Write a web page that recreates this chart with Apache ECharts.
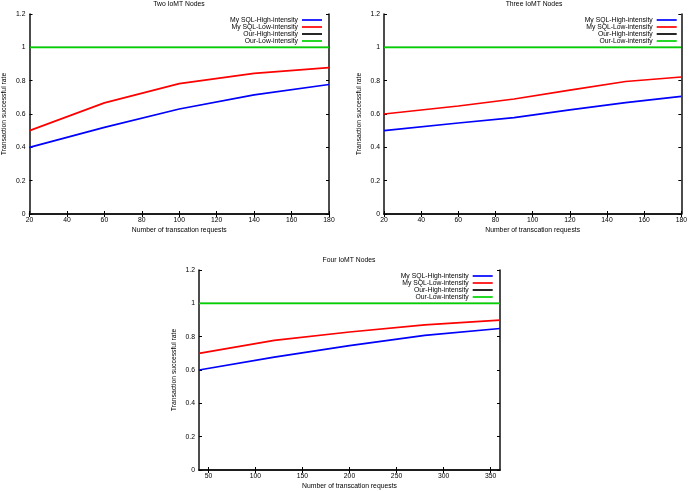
<!DOCTYPE html>
<html>
<head>
<meta charset="utf-8">
<script src="https://cdn.jsdelivr.net/npm/echarts@6/dist/echarts.min.js"></script>
<style>
html,body{margin:0;padding:0;background:#fff;}
#chart{width:690px;height:491px;}
</style>
</head>
<body>
<div id="chart"></div>
<script>
// ---- data ----
const seriesNames = ['My SQL-High-intensity', 'My SQL-Low-intensity', 'Our-High-intensity', 'Our-Low-intensity'];
const titles = ['Two IoMT Nodes', 'Three IoMT Nodes', 'Four IoMT Nodes'];
const xAxisTitle = 'Number of transcation requests';
const yAxisTitle = 'Transaction successful rate';

const x1 = [20, 60, 100, 140, 180];
const mysqlHigh1 = [0.40, 0.52, 0.63, 0.715, 0.777];
const mysqlLow1 = [0.50, 0.667, 0.782, 0.844, 0.878];
const ourHigh1 = [1, 1, 1, 1, 1];
const ourLow1 = [1, 1, 1, 1, 1];

const x2 = [20, 60, 90, 120, 150, 180];
const mysqlHigh2 = [0.50, 0.546, 0.578, 0.625, 0.668, 0.706];
const mysqlLow2 = [0.60, 0.648, 0.69, 0.743, 0.795, 0.822];
const ourHigh2 = [1, 1, 1, 1, 1, 1];
const ourLow2 = [1, 1, 1, 1, 1, 1];

const x3 = [40, 120, 200, 280, 360];
const mysqlHigh3 = [0.60, 0.677, 0.746, 0.808, 0.849];
const mysqlLow3 = [0.70, 0.778, 0.828, 0.871, 0.899];
const ourHigh3 = [1, 1, 1, 1, 1];
const ourLow3 = [1, 1, 1, 1, 1];

const xTicks3 = [50, 100, 150, 200, 250, 300, 350];

// ---- styling ----
const FONT = 'Liberation Sans, Arial, sans-serif';
const FS = 6.8;
const colors = ['#0000ff', '#ff0000', '#000000', '#00d200'];
const widths = [1.7, 1.7, 1, 1.8];

const panels = [
  {grid: {left: 29, top: 14, width: 300, height: 200}, xmin: 20, xmax: 180, interval: 20, xs: x1, ys: [mysqlHigh1, mysqlLow1, ourHigh1, ourLow1], legend: {right: 368, top: 16.5}, title: {left: 179, top: 1}},
  {grid: {left: 384, top: 14, width: 300, height: 200}, xmin: 20, xmax: 180, interval: 20, xs: x2, ys: [mysqlHigh2, mysqlLow2, ourHigh2, ourLow2], legend: {right: 13.3, top: 16.5}, title: {left: 534, top: 1}},
  {grid: {left: 199, top: 270, width: 301, height: 200}, xmin: 40, xmax: 360, custom: xTicks3, xs: x3, ys: [mysqlHigh3, mysqlLow3, ourHigh3, ourLow3], legend: {right: 197.3, top: 272.5}, title: {left: 349, top: 257}}
];

const text = {fontFamily: FONT, fontSize: FS, color: '#000'};
const axisLine = {show: true, lineStyle: {color: '#111', width: 1.5}};

const option = {
  backgroundColor: '#fff',
  animation: false,
  title: [], legend: [], grid: [], xAxis: [], yAxis: [], series: []
};

panels.forEach((p, g) => {
  option.title.push({text: titles[g], left: p.title.left, top: p.title.top, textAlign: 'center',
    textStyle: Object.assign({fontWeight: 'normal'}, text), padding: 0});
  option.grid.push(Object.assign({containLabel: false}, p.grid));
  const tickCfg = {show: true, inside: true, length: 3, lineStyle: {color: '#000', width: 1}};
  const bottom = {
    type: 'value', gridIndex: g, position: 'bottom', min: p.xmin, max: p.xmax,
    name: xAxisTitle, nameLocation: 'middle', nameGap: 12.5, nameTextStyle: text,
    axisLine: axisLine, splitLine: {show: false},
    axisTick: Object.assign({}, tickCfg),
    axisLabel: Object.assign({margin: 2.5, showMinLabel: true, showMaxLabel: true}, text)
  };
  const top = {
    type: 'value', gridIndex: g, position: 'top', min: p.xmin, max: p.xmax,
    axisLine: axisLine, splitLine: {show: false},
    axisTick: Object.assign({}, tickCfg), axisLabel: {show: false}
  };
  if (p.custom) {
    bottom.axisTick.customValues = p.custom;
    bottom.axisLabel.customValues = p.custom;
    top.axisTick.customValues = p.custom;
  } else {
    bottom.interval = p.interval;
    top.interval = p.interval;
  }
  option.xAxis.push(bottom, top);
  option.yAxis.push({
    type: 'value', gridIndex: g, position: 'left', min: 0, max: 1.2, interval: 0.2,
    name: yAxisTitle, nameLocation: 'middle', nameGap: 21.5, nameTextStyle: text,
    axisLine: axisLine, splitLine: {show: false},
    axisTick: Object.assign({}, tickCfg),
    axisLabel: Object.assign({margin: 4, showMinLabel: true, showMaxLabel: true}, text)
  }, {
    type: 'value', gridIndex: g, position: 'right', min: 0, max: 1.2, interval: 0.2,
    axisLine: axisLine, splitLine: {show: false},
    axisTick: Object.assign({}, tickCfg), axisLabel: {show: false}
  });
  option.legend.push({
    data: seriesNames.slice(), orient: 'vertical', align: 'right',
    right: p.legend.right, top: p.legend.top, itemGap: 0, itemWidth: 20, itemHeight: 1.7,
    icon: 'rect', padding: 0, selectedMode: false,
    textStyle: Object.assign({lineHeight: 6.8, padding: [0, -1, 0, 0]}, text)
  });
  seriesNames.forEach((name, s) => {
    option.series.push({
      type: 'line', name: name, xAxisIndex: 2 * g, yAxisIndex: 2 * g,
      data: p.xs.map((x, i) => [x, p.ys[s][i]]),
      symbol: 'none', showSymbol: false, smooth: false,
      lineStyle: {color: colors[s], width: widths[s]},
      itemStyle: {color: colors[s]},
      z: 2 + s
    });
  });
});

const chart = echarts.init(document.getElementById('chart'), null, {renderer: 'canvas'});
chart.setOption(option);
</script>
</body>
</html>
